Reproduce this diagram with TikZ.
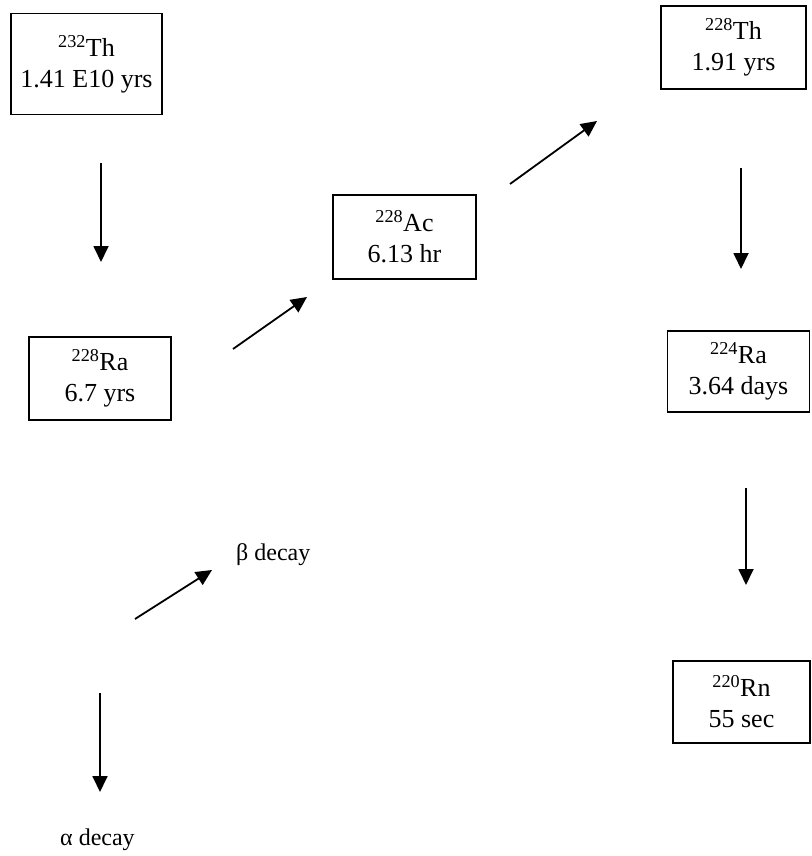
\documentclass[tikz,border=0pt]{standalone}
\usepackage{fontspec}
\setmainfont{Liberation Serif}
\usetikzlibrary{arrows.meta}
\begin{document}
\begin{tikzpicture}[x=1pt,y=-1pt,
  nuc/.style={draw, line width=1.3pt, align=center, inner sep=0pt,
    font=\fontsize{26}{31}\selectfont},
  decay/.style={line width=1.8pt, -{Triangle[length=16pt,width=15pt]}},
  lbl/.style={font=\fontsize{24}{28}\selectfont, inner sep=0pt}]
\useasboundingbox (0,0) rectangle (811,856);
% nuclide boxes
\node[nuc, minimum width=151pt, minimum height=101pt] (th232) at (86.5,64) {\textsuperscript{232}Th\\1.41 E10 yrs};
\node[nuc, minimum width=142pt, minimum height=83pt] (ra228) at (100,378.5) {\textsuperscript{228}Ra\\6.7 yrs};
\node[nuc, minimum width=143pt, minimum height=84pt] (ac228) at (404.5,237) {\textsuperscript{228}Ac\\6.13 hr};
\node[nuc, minimum width=145pt, minimum height=83pt] (th228) at (733.5,47.5) {\textsuperscript{228}Th\\1.91 yrs};
\node[nuc, minimum width=142pt, minimum height=81pt] (ra224) at (738.5,371.5) {\textsuperscript{224}Ra\\3.64 days};
\node[nuc, minimum width=137pt, minimum height=82pt] (rn220) at (741.5,702) {\textsuperscript{220}Rn\\55 sec};
% arrow end points
\coordinate (a1s) at (101,163); \coordinate (a1e) at (101,262);
\coordinate (a2s) at (233,349); \coordinate (a2e) at (307,297);
\coordinate (a3s) at (510,184); \coordinate (a3e) at (597,121);
\coordinate (a4s) at (741,168); \coordinate (a4e) at (741,269);
\coordinate (a5s) at (746,488); \coordinate (a5e) at (746,585);
\coordinate (b1s) at (135,619); \coordinate (b1e) at (212,570);
\coordinate (c1s) at (100,693); \coordinate (c1e) at (100,792);
\draw[decay] (a1s) -- (a1e);
\draw[decay] (a2s) -- (a2e);
\draw[decay] (a3s) -- (a3e);
\draw[decay] (a4s) -- (a4e);
\draw[decay] (a5s) -- (a5e);
\draw[decay] (b1s) -- (b1e);
\draw[decay] (c1s) -- (c1e);
% legend labels
\node[lbl, anchor=west] (beta) at (236,555) {β decay};
\node[lbl, anchor=west] (alpha) at (60,840) {α decay};
\end{tikzpicture}
\end{document}
